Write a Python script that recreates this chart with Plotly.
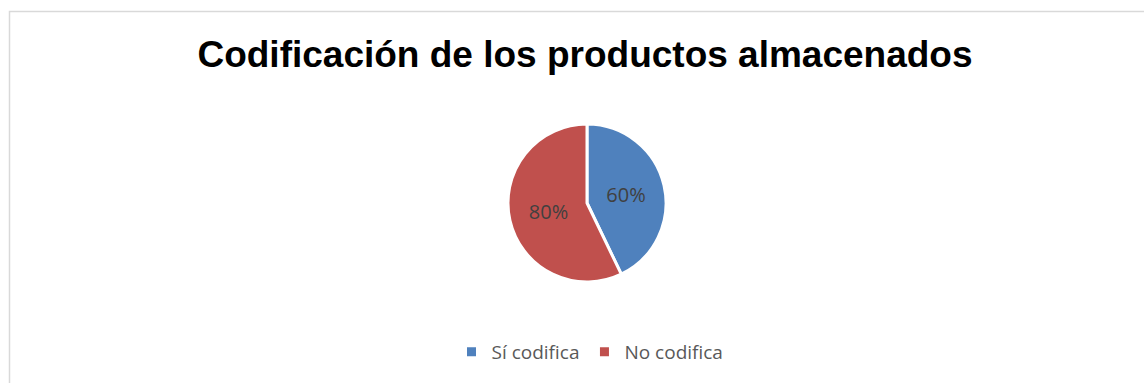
import plotly.graph_objects as go

labels = ["Sí codifica", "No codifica"]
values = [60, 80]
colors = ["#4F81BD", "#C0504D"]

W, H = 1144, 383
cx, cy, r = 587, 203, 79

fig = go.Figure(go.Pie(
    labels=labels,
    values=values,
    marker=dict(colors=colors, line=dict(color="white", width=3)),
    sort=False,
    direction="clockwise",
    rotation=0,
    texttemplate="%{value}%",
    textposition="inside",
    insidetextorientation="horizontal",
    textfont=dict(family="Open Sans, Liberation Sans, sans-serif", size=20, color="#404040"),
    hoverinfo="label+value",
    domain=dict(x=[(cx - r) / W, (cx + r) / W], y=[(H - cy - r) / H, (H - cy + r) / H]),
))

fig.update_layout(
    width=W, height=H,
    margin=dict(l=0, r=0, t=0, b=0),
    paper_bgcolor="white",
    title=dict(text="<b>Codificación de los productos almacenados</b>",
               x=585 / W, xanchor="center", y=1 - 54 / H, yanchor="middle",
               font=dict(family="Liberation Sans, Arial, sans-serif", size=37, color="black")),
    legend=dict(orientation="h", x=590 / W, xanchor="center", y=1 - 352 / H, yanchor="middle",
                font=dict(family="Open Sans, Liberation Sans, sans-serif", size=19, color="#595959"),
                itemwidth=30, traceorder="normal"),
    shapes=[dict(type="rect", xref="paper", yref="paper",
                 x0=9.5 / W, x1=1.02, y0=-0.05, y1=1 - 11.5 / H,
                 line=dict(color="#d9d9d9", width=1.5), fillcolor="rgba(0,0,0,0)")],
)

fig.write_html("out.html")
